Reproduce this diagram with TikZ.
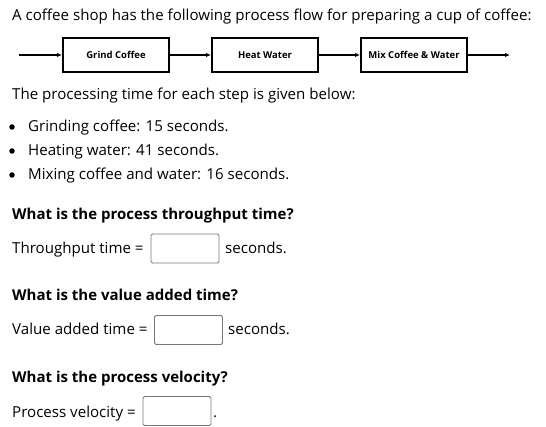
\documentclass[tikz,border=0pt]{standalone}
\usepackage{fontspec}
\setmainfont{Open Sans}
\usetikzlibrary{arrows.meta}
\begin{document}
\begin{tikzpicture}[x=1pt,y=-1pt,
  txt/.style={anchor=base west,inner sep=0pt,font=\fontsize{15.1}{17}\selectfont},
  qtxt/.style={anchor=base west,inner sep=0pt,font=\fontsize{15}{17}\selectfont\bfseries},
  procbox/.style={draw=black,line width=2pt,minimum width=106pt,minimum height=34pt,inner sep=0pt,font=\fontsize{9.5}{10}\selectfont\bfseries},
  flow/.style={line width=1.3pt,-{Latex[length=5pt,width=4.5pt]}},
  ansbox/.style={draw={rgb,255:red,118;green,118;blue,118},line width=0.9pt,rounded corners=1.5pt,minimum width=68pt,minimum height=29pt,inner sep=0pt},
  bul/.style={circle,fill=black,inner sep=0pt,minimum size=5.5pt}]
\useasboundingbox (0,0) rectangle (546,427);
\node[txt] (title) at (12,21) {A coffee shop has the following process flow for preparing a cup of coffee:};
% flow
\coordinate (in) at (19,55);
\node[procbox] (b1) at (116,55) {Grind Coffee};
\node[procbox] (b2) at (265,55) {Heat Water};
\node[procbox] (b3) at (414,55) {Mix Coffee \& Water};
\coordinate (out) at (510,55);
\draw[flow] (in) -- (b1.west);
\draw[flow] (b1.east) -- (b2.west);
\draw[flow] (b2.east) -- (b3.west);
\draw[flow] (b3.east) -- (out);
% text
\node[txt] (intro) at (12,100) {The processing time for each step is given below:};
\node[bul] (d1) at (12,127) {};
\node[bul] (d2) at (12,151) {};
\node[bul] (d3) at (12,175) {};
\node[txt] (l1) at (28,132) {Grinding coffee: 15 seconds.};
\node[txt] (l2) at (28,156) {Heating water: 41 seconds.};
\node[txt] (l3) at (28,180) {Mixing coffee and water: 16 seconds.};
% Q1
\node[qtxt] (q1) at (12,220) {What is the process throughput time?};
\node[txt] (a1) at (12,254) {Throughput time =};
\node[ansbox] (x1) at (185,248.5) {};
\node[txt] (s1) at (225,254) {seconds.};
% Q2
\node[qtxt] (q2) at (12,301) {What is the value added time?};
\node[txt] (a2) at (12,335) {Value added time =};
\node[ansbox] (x2) at (188.5,330) {};
\node[txt] (s2) at (228,335) {seconds.};
% Q3
\node[qtxt] (q3) at (12,382) {What is the process velocity?};
\node[txt] (a3) at (12,417) {Process velocity =};
\node[ansbox] (x3) at (177,411) {};
\node[txt] (s3) at (213,417) {.};
\end{tikzpicture}
\end{document}
